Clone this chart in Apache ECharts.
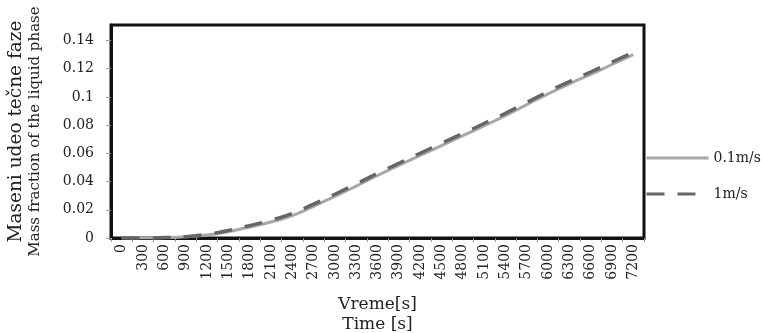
<!DOCTYPE html>
<html>
<head>
<meta charset="utf-8">
<script src="https://cdn.jsdelivr.net/npm/echarts@6/dist/echarts.min.js"></script>
<style>
html,body{margin:0;padding:0;background:#fff;}
#c{width:762px;height:333px;}
</style>
</head>
<body>
<div id="c"></div>
<script>
const categories = ['0','300','600','900','1200','1500','1800','2100','2400','2700','3000','3300','3600','3900','4200','4500','4800','5100','5400','5700','6000','6300','6600','6900','7200'];
const seriesNames = ['0.1m/s','1m/s'];
const v01 = [0,0,0.0002,0.0008,0.0022,0.0045,0.0078,0.0113,0.0158,0.0225,0.0295,0.0368,0.0443,0.0515,0.0585,0.0655,0.0725,0.0795,0.0867,0.0945,0.1022,0.1093,0.116,0.123,0.130];
const v1 = [0,0,0.0003,0.001,0.0026,0.0053,0.0088,0.0126,0.0173,0.024,0.031,0.0383,0.0458,0.053,0.0601,0.0671,0.0741,0.0812,0.0884,0.0961,0.1038,0.1109,0.1177,0.1247,0.1316];
const yTicks = {min:0, max:0.151, interval:0.02};
const xTitle = 'Vreme[s]\nTime [s]';
const yTitle1 = 'Maseni udeo tečne faze';
const yTitle2 = 'Mass fraction of the liquid phase';

const FF = 'DejaVu Serif';
const chart = echarts.init(document.getElementById('c'));
chart.setOption({
  animation:false,
  backgroundColor:'#fff',
  grid:{left:111,right:118,top:25,bottom:95,show:true,borderColor:'#111',borderWidth:3,containLabel:false,outerBoundsMode:'none'},
  legend:{
    data:seriesNames, orient:'vertical', left:645, top:151,
    itemWidth:62, itemHeight:14, itemGap:22, padding:0,
    itemStyle:{color:'rgba(0,0,0,0)',borderWidth:0,opacity:0},
    lineStyle:{width:3},
    textStyle:{fontFamily:FF,fontSize:14,color:'#222'}
  },
  xAxis:{
    type:'category', data:categories, boundaryGap:true,
    axisLine:{lineStyle:{color:'#111',width:3}},
    axisTick:{show:true,length:4,lineStyle:{color:'#999',width:1}},
    axisLabel:{rotate:90,interval:0,fontFamily:FF,fontSize:14,color:'#222',margin:6},
    name:xTitle, nameLocation:'middle', nameGap:57,
    nameTextStyle:{fontFamily:FF,fontSize:17,color:'#222',lineHeight:20}
  },
  yAxis:{
    type:'value', min:yTicks.min, max:yTicks.max, interval:yTicks.interval,
    splitLine:{show:false},
    axisLine:{show:true,lineStyle:{color:'#111',width:3}},
    axisTick:{show:true,length:5,lineStyle:{color:'#999',width:1}},
    axisLabel:{fontFamily:FF,fontSize:14,color:'#222',margin:17,showMaxLabel:false},
    name:'{a|'+yTitle1+'}\n{b|'+yTitle2+'}', nameLocation:'middle', nameGap:67,
    nameTextStyle:{fontFamily:FF,color:'#222',rich:{
      a:{fontFamily:FF,fontSize:18.5,lineHeight:19,color:'#222'},
      b:{fontFamily:FF,fontSize:15,lineHeight:18,color:'#222'}
    }}
  },
  series:[
    {name:seriesNames[0],type:'line',data:v01,symbol:'none',showSymbol:false,smooth:true,
     lineStyle:{color:'#a8a8a8',width:3},itemStyle:{color:'#a8a8a8'},z:2},
    {name:seriesNames[1],type:'line',data:v1,symbol:'none',showSymbol:false,smooth:true,
     lineStyle:{color:'#666',width:3.5,type:[18,13]},itemStyle:{color:'#666'},z:3}
  ]
});
</script>
</body>
</html>
